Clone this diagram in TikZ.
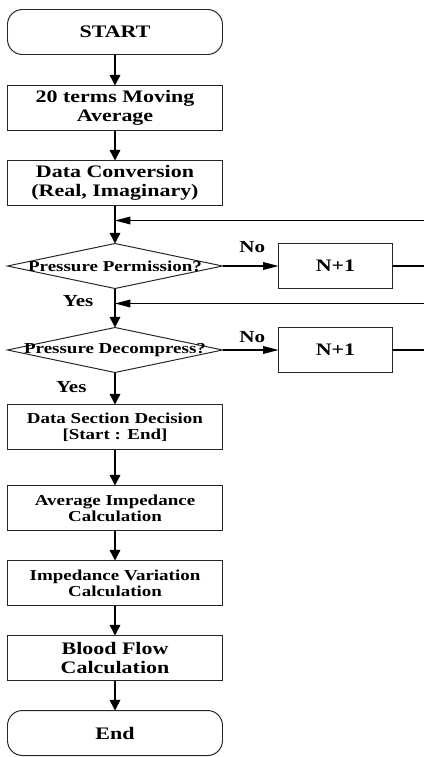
\documentclass[tikz,border=0pt]{standalone}
\usepackage{fontspec}
\setmainfont{Liberation Serif}[FakeStretch=1.25]
\usetikzlibrary{arrows.meta,positioning,shapes.geometric}

\begin{document}
\begin{tikzpicture}[
  node distance=0.75cm,
  term/.style={rectangle, rounded corners=0.375cm, draw=black!85, line width=0.7pt, inner sep=1pt, outer sep=0pt, minimum width=5.375cm, minimum height=1.125cm, align=center, font=\fontsize{12.5}{13.5}\selectfont\bfseries},
  block/.style={rectangle, draw=black!85, line width=0.7pt, inner sep=1pt, outer sep=0pt, minimum width=5.375cm, minimum height=1.125cm, align=center, font=\fontsize{12.5}{13.5}\selectfont\bfseries},
  smalltext/.style={font=\fontsize{10.8}{11.2}\selectfont\bfseries},
  decision/.style={diamond, draw=black!85, line width=0.7pt, minimum width=5.375cm, minimum height=1.125cm, inner sep=0pt, outer sep=0pt},
  lbl/.style={font=\fontsize{12}{13}\selectfont\bfseries, inner sep=1pt},
  arrow/.style={-{Triangle[width=7.5pt,length=7.5pt]}, line width=1pt},
  harrow/.style={-{Triangle[width=5.5pt,length=11pt]}, line width=0.8pt}
]
\useasboundingbox (0,0) rectangle (10.6,-18.925);

\node[term] (start) at (2.875,-0.8) {START};
\node[block, below=0.775cm of start] (mavg) {20 terms Moving\\Average};
\node[block, below=of mavg] (conv) {Data Conversion\\(Real, Imaginary)};
\node[decision, below=0.95cm of conv, label={[smalltext]center:Pressure Permission?}] (perm) {};
\node[block, right=1.4cm of perm, minimum width=2.85cm] (inc1) {N+1};
\node[decision, below=0.975cm of perm, label={[smalltext]center:Pressure Decompress?}] (decomp) {};
\node[block, right=1.4cm of decomp, minimum width=2.85cm] (inc2) {N+1};
\node[block, smalltext, below=0.8cm of decomp] (sect) {Data Section Decision\\{[}Start : End{]}};
\node[block, smalltext, below=0.9cm of sect] (avgimp) {Average Impedance\\Calculation};
\node[block, smalltext, below=of avgimp] (var) {Impedance Variation\\Calculation};
\node[block, below=of var] (flow) {Blood Flow\\Calculation};
\node[term, below=of flow] (end) {End};

\coordinate[below=0.375cm of conv] (j1);
\coordinate[below=0.375cm of perm] (j2);

\draw[arrow] (start) -- (mavg);
\draw[arrow] (mavg) -- (conv);
\draw[arrow] (conv) -- (perm);
\draw[arrow] (perm) -- (decomp);
\draw[arrow] (decomp) -- (sect);
\draw[arrow] (sect) -- (avgimp);
\draw[arrow] (avgimp) -- (var);
\draw[arrow] (var) -- (flow);
\draw[arrow] (flow) -- (end);

\draw[harrow] (perm) -- node[lbl, above=0.28cm, pos=0.53] {No} (inc1);
\draw[harrow] (decomp) -- node[lbl, above=0.14cm, pos=0.53] {No} (inc2);
\draw[harrow] (inc1.east) -- ++(1cm,0) |- (j1);
\draw[harrow] (inc2.east) -- ++(1cm,0) |- (j2);

\node[lbl, below left=0.12cm and 0.5cm of perm.south] {Yes};
\node[lbl, below left=0.17cm and 0.67cm of decomp.south] {Yes};
\end{tikzpicture}
\end{document}
